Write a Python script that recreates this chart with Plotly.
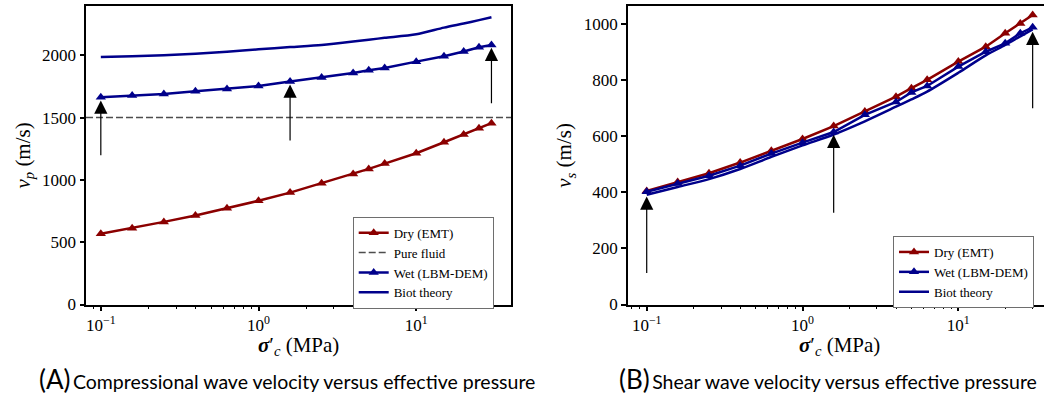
import math
import plotly.graph_objects as go

# ---------------- data ----------------
sigma = [0.1, 0.158, 0.251, 0.398, 0.631, 1.0, 1.585, 2.512, 3.981, 5.0, 6.31,
         10.0, 15.0, 20.0, 25.0, 30.0]

vp_dry = [567, 612, 663, 714, 773, 832, 898, 973, 1048, 1088, 1131,
          1214, 1302, 1364, 1415, 1455]
vp_wet = [1663, 1677, 1690, 1711, 1730, 1754, 1789, 1821, 1858, 1880, 1898,
          1949, 1992, 2030, 2064, 2083]
vp_biot = [1986, 1993, 2001, 2012, 2028, 2048, 2066, 2083, 2110, 2125, 2140,
           2168, 2222, 2255, 2282, 2305]
vp_fluid = 1500

vs_dry = [405, 437, 468, 506, 548, 590, 636, 688, 741, 771, 801,
          866, 919, 967, 1002, 1032]
vs_wet = [402, 431, 459, 495, 538, 577, 615, 676, 722, 756, 779,
          848, 901, 931, 967, 988]
vs_biot = [391, 419, 447, 483, 526, 567, 606, 653, 705, 731, 759,
           826, 888, 925, 956, 981]

arrow_sigma = [0.1, 1.585, 30.0]
vp_arrow_tail = [1185, 1305, 1602]
vp_arrow_tip = [1637, 1765, 2060]
vs_arrow_tail = [107, 322, 694]
vs_arrow_tip = [385, 605, 972]

x_ticks = [0.1, 1, 10]
x_ticktext = ["10<sup>\u22121</sup>", "10<sup>0</sup>", "10<sup>1</sup>"]
vp_ticks = [0, 500, 1000, 1500, 2000]
vs_ticks = [0, 200, 400, 600, 800, 1000]

# ---------------- style ----------------
W, H = 1044, 397
RED = "#8B0000"
BLUE = "#00008B"
SERIF = "Liberation Serif"
SANS = "Lato"

fig = go.Figure()

def add_series(x, y, name, color, xa, ya, legend, markers, rank):
    fig.add_trace(go.Scatter(
        x=x, y=y, name=name, xaxis=xa, yaxis=ya, legend=legend,
        mode="lines+markers" if markers else "lines",
        line=dict(color=color, width=2.5,
                  shape="linear" if markers else "spline", smoothing=0.8),
        marker=dict(symbol="triangle-up", size=9, color=color),
        legendrank=rank, cliponaxis=False,
    ))

add_series(sigma, vp_dry, "Dry (EMT)", RED, "x", "y", "legend", True, 1)
add_series(sigma, vp_wet, "Wet (LBM-DEM)", BLUE, "x", "y", "legend", True, 3)
add_series(sigma, vp_biot, "Biot theory", BLUE, "x", "y", "legend", False, 4)

add_series(sigma, vs_dry, "Dry (EMT)", RED, "x2", "y2", "legend2", True, 1)
add_series(sigma, vs_wet, "Wet (LBM-DEM)", BLUE, "x2", "y2", "legend2", True, 3)
add_series(sigma, vs_biot, "Biot theory", BLUE, "x2", "y2", "legend2", False, 4)

# pure fluid horizontal line
fig.add_shape(type="line", xref="x domain", yref="y", x0=0, x1=1,
              y0=vp_fluid, y1=vp_fluid, layer="below",
              line=dict(color="#4d4d4d", width=1.5, dash="7px,3px"),
              showlegend=True, name="Pure fluid", legend="legend", legendrank=2)

# arrows
for xs, t0, t1 in zip(arrow_sigma, vp_arrow_tail, vp_arrow_tip):
    lx = math.log10(xs)
    fig.add_annotation(x=lx, y=t1, ax=lx, ay=t0, xref="x", yref="y",
                       axref="x", ayref="y", text="", showarrow=True,
                       arrowhead=2, arrowsize=2.2, arrowwidth=1.2,
                       arrowcolor="black", standoff=0, startstandoff=0)
for xs, t0, t1 in zip(arrow_sigma, vs_arrow_tail, vs_arrow_tip):
    lx = math.log10(xs)
    fig.add_annotation(x=lx, y=t1, ax=lx, ay=t0, xref="x2", yref="y2",
                       axref="x2", ayref="y2", text="", showarrow=True,
                       arrowhead=2, arrowsize=2.2, arrowwidth=1.2,
                       arrowcolor="black", standoff=0, startstandoff=0)

minor_vals = [k * 10 ** e for e in (-2, -1, 0, 1) for k in range(2, 10)]

def xaxis_style(domain, rng, anchor):
    return dict(
        type="log", domain=domain, range=rng, anchor=anchor,
        showline=True, linecolor="black", linewidth=2, mirror=True,
        showgrid=False, zeroline=False,
        ticks="outside", ticklen=4, tickwidth=1.5, tickcolor="black",
        tickmode="array", tickvals=x_ticks, ticktext=x_ticktext,
        tickfont=dict(family=SERIF, size=17, color="black"),
        minor=dict(ticks="outside", ticklen=2, tickwidth=1, tickcolor="black",
                   tickmode="array", tickvals=minor_vals, showgrid=False),
        automargin=False,
    )

def yaxis_style(domain, rng, anchor, tickvals, title, mirror):
    return dict(
        domain=domain, range=rng, anchor=anchor,
        showline=True, linecolor="black", linewidth=2, mirror=mirror,
        showgrid=False, zeroline=False,
        ticks="outside", ticklen=4.5, tickwidth=1.5, tickcolor="black",
        tickmode="array", tickvals=tickvals,
        tickfont=dict(family=SERIF, size=17, color="black"),
        title=dict(text=title, font=dict(family=SERIF, size=21, color="black"),
                   standoff=6),
        automargin=False,
    )

ydom = [1 - 304.5 / H, 1 - 6.3 / H]

legend_common = dict(
    font=dict(family=SERIF, size=13, color="black"),
    bgcolor="white", bordercolor="#6e6e6e", borderwidth=1,
    xanchor="left", yanchor="top", traceorder="normal",
    itemwidth=30, tracegroupgap=0,
)

fig.update_layout(
    width=W, height=H,
    margin=dict(l=0, r=0, t=0, b=0),
    paper_bgcolor="white", plot_bgcolor="white",
    font=dict(family=SERIF),
    xaxis=xaxis_style([86 / W, 511 / W], [-1.094, 1.601], "y"),
    yaxis=yaxis_style(ydom, [0, 2393], "x", vp_ticks,
                      "<i>v</i><sub><i>p</i></sub> (m/s)", True),
    xaxis2=xaxis_style([627.7 / W, 1.0], [-1.122, 1.550], "y2"),
    yaxis2=yaxis_style(ydom, [0, 1063], "x2", vs_ticks,
                       "<i>v</i><sub><i>s</i></sub> (m/s)", False),
    legend=dict(x=352.7 / W, y=1 - 216.7 / H, **legend_common),
    legend2=dict(x=893 / W, y=1 - 236 / H, **legend_common),
    showlegend=True,
)

# x-axis titles
for xr, cx in (("x domain", 0.5), ("x2 domain", (839 - 627.7) / (W - 627.7))):
    fig.add_annotation(
        xref=xr, yref="paper", x=cx, y=1 - 346 / H,
        xanchor="center", yanchor="middle", showarrow=False,
        text="<b><i>\u03c3</i></b>\u2032<sub><i>c</i></sub> (MPa)",
        font=dict(family=SERIF, size=21, color="black"),
    )

fig.add_annotation(
    xref="paper", yref="paper", x=37 / W, y=1 - 379 / H,
    xanchor="left", yanchor="middle", showarrow=False,
    text="<span style='font-size:26px'>(A)</span>\u2009Compressional wave velocity versus effective pressure",
    font=dict(family=SANS, size=19.5, color="black"),
)
fig.add_annotation(
    xref="paper", yref="paper", x=617 / W, y=1 - 379 / H,
    xanchor="left", yanchor="middle", showarrow=False,
    text="<span style='font-size:26px'>(B)</span>\u2009Shear wave velocity versus effective pressure",
    font=dict(family=SANS, size=19.5, color="black"),
)

fig.write_html(
    "out.html",
    config={"displayModeBar": False},
    post_script="document.body.style.margin='0';document.body.style.overflow='hidden';",
)
